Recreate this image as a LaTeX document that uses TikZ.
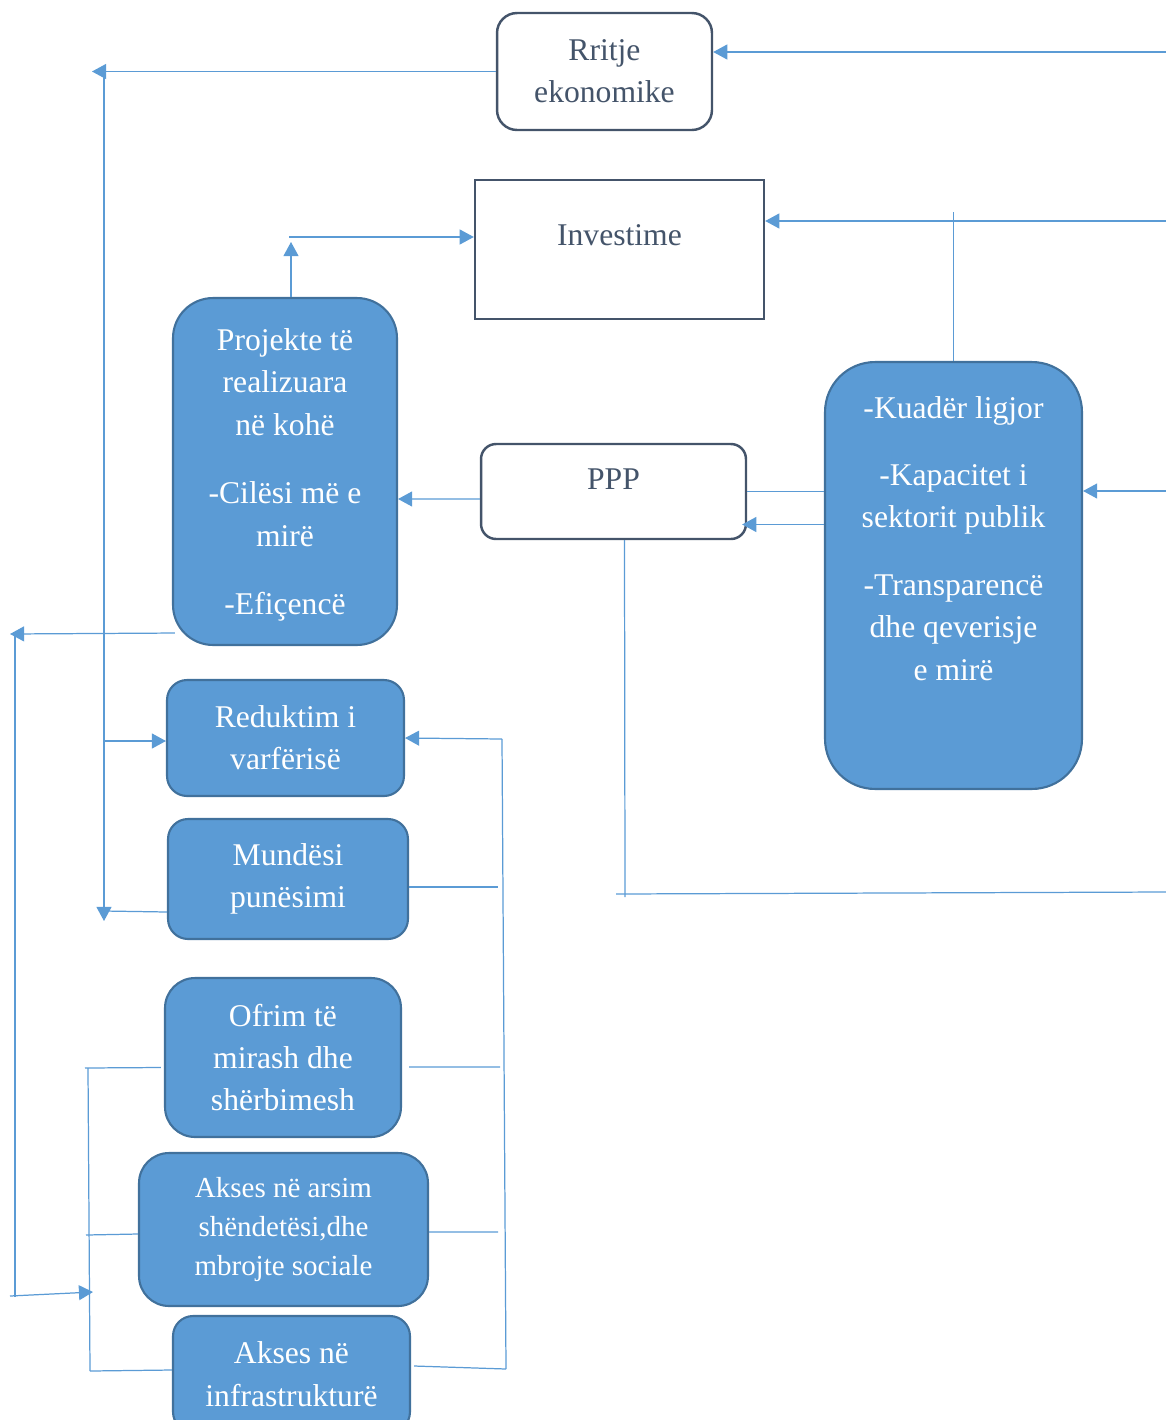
\documentclass[tikz,border=0pt]{standalone}
\usepackage{fontspec}
\setmainfont{Liberation Serif}
\usetikzlibrary{arrows.meta,calc}

\definecolor{boxblue}{HTML}{5B9BD5}
\definecolor{edgeblue}{HTML}{41719C}
\definecolor{slate}{HTML}{44546A}

\tikzset{
  bigtext/.style={font=\fontsize{18}{24.1}\selectfont},
  plainbox/.style={draw=slate, line width=1.4pt, fill=white, text=slate, align=center, bigtext, inner sep=0pt},
  bluebox/.style={draw=edgeblue, line width=1.2pt, fill=boxblue, text=white, align=center, bigtext, inner sep=0pt},
  link/.style={draw=boxblue, line width=0.7pt},
  arr/.style={-{Triangle[length=8pt,width=8.5pt]}}
}

\begin{document}
\begin{tikzpicture}[x=0.02cm,y=-0.02cm]

% Frame
\clip (0,0) rectangle (1166,1420);

% Top boxes
\node[plainbox, rounded corners=0.4cm, minimum width=4.3cm, minimum height=2.34cm] (growth) at (604.5,71.5) {Rritje\\ ekonomike};
\node[plainbox, minimum width=5.78cm, minimum height=2.78cm,
  label={[bigtext, text=slate, yshift=0.29cm]center:Investime}] (invest) at (619.5,249.5) {};
\node[plainbox, rounded corners=0.3cm, minimum width=5.3cm, minimum height=1.9cm,
  label={[bigtext, text=slate, yshift=0.25cm]center:PPP}] (ppp) at (613.5,491.5) {};

% Blue boxes
\node[bluebox, rounded corners=0.8cm, minimum width=4.48cm, minimum height=6.94cm,
  label={[bigtext, text=white, align=center, yshift=-0.07cm]center:{Projekte të\\ realizuara\\ në kohë\\[15pt] -Cilësi më e\\ mirë\\[15pt] -Efiçencë}}] (proj) at (285,471.5) {};
\node[bluebox, rounded corners=1cm, minimum width=5.14cm, minimum height=8.54cm,
  label={[bigtext, text=white, align=center, yshift=0.74cm]center:{-Kuadër ligjor\\[14pt] -Kapacitet i\\ sektorit publik\\[14.5pt] -Transparencë\\ dhe qeverisje\\ e mirë}}] (legal) at (953.5,575.5) {};
\node[bluebox, rounded corners=0.4cm, minimum width=4.74cm, minimum height=2.32cm] (poverty) at (285.5,738) {Reduktim i\\ varfërisë};
\node[bluebox, rounded corners=0.4cm, minimum width=4.8cm, minimum height=2.4cm] (jobs) at (288,879) {Mundësi\\ punësimi};
\node[bluebox, rounded corners=0.6cm, minimum width=4.72cm, minimum height=3.18cm] (serv) at (283,1057.5) {Ofrim të\\ mirash dhe\\ shërbimesh};
\node[bluebox, rounded corners=0.6cm, minimum width=5.78cm, minimum height=3.06cm,
  font=\fontsize{16.5}{22.1}\selectfont] (edu) at (283.5,1229.5) {Akses në arsim\\ shëndetësi,dhe\\ mbrojte sociale};
\node[bluebox, rounded corners=0.4cm, minimum width=4.74cm, minimum height=2.32cm] (infra) at (291.5,1374) {Akses në\\ infrastrukturë};

% Inputs from the right
\coordinate (inA) at (1166,52);
\coordinate (inB) at (1166,221);
\coordinate (inC) at (1166,491);
\coordinate (inD) at (1166,892);
\draw[link,arr] (inA) -- (growth.east |- inA);
\draw[link,arr] (inB) -- (invest.east |- inB);
\draw[link] (legal.north) -- ++(0,-149);
\draw[link,arr] (inC) -- (legal.east |- inC);

% PPP links
\draw[link] (legal.west |- ppp.east) -- (ppp.east);
\draw[link,arr] ($(legal.west)+(0,-51)$) -- ($(ppp.east)+(-5,33)$);
\draw[link,arr] ($(ppp.west)+(0,7.5)$) -- (proj.east |- 0,499);
\coordinate (pd) at (625,897);
\coordinate (pl) at (616,894);
\draw[link] ($(ppp.south)+(11,0)$) -- (pd);
\draw[link] (pl) -- (inD);

% Projects to investment
\draw[link,arr] ($(proj.north)+(6,0)$) -- ++(0,-55);
\coordinate (ia) at (289,237);
\draw[link,arr] (ia) -- (invest.west |- ia);

% Growth line on the left
\coordinate (lt) at (92,71.5);
\coordinate (lv) at (104,71.5);
\coordinate (lb) at (104,921);
\draw[link,arr] (growth.west) -- (lt);
\draw[link,arr] (lv) -- (lb);
\draw[link,arr] (lv |- 0,741) -- (poverty.west |- 0,741);
\draw[link] ($(jobs.west)+(0,33)$) -- (lv |- 0,911);

% Outer line on the left
\coordinate (fl) at (10,634);
\coordinate (fv) at (15,634);
\coordinate (fb) at (15,1297);
\coordinate (fs) at (10,1296);
\coordinate (fe) at (93,1292);
\draw[link,arr] ($(proj.south west)+(3,-13)$) -- (fl);
\draw[link] (fv) -- (fb);
\draw[link,arr] (fs) -- (fe);

% Left bracket
\coordinate (bt) at (88,1068);
\coordinate (bb) at (90,1371);
\draw[link] (bt) -- (bb);
\draw[link] (85,1068) -- ($(serv.west)+(-3,10)$);
\draw[link] (86,1235) -- ($(edu.west)+(0,4.5)$);
\draw[link] (bb) -- ($(infra.west)+(0,-4)$);

% Right bracket
\coordinate (rt) at (502,739);
\coordinate (rb) at (506,1369);
\draw[link] (rt) -- (rb);
\draw[link,arr] (rt) -- (poverty.east);
\draw[link] ($(jobs.east)+(0,8)$) -- (498,887);
\draw[link] ($(serv.east)+(7,9.5)$) -- (500,1067);
\draw[link] ($(edu.east)+(0,2.5)$) -- (498,1232);
\draw[link] ($(infra.east)+(3,-8)$) -- (rb);

\end{tikzpicture}
\end{document}
